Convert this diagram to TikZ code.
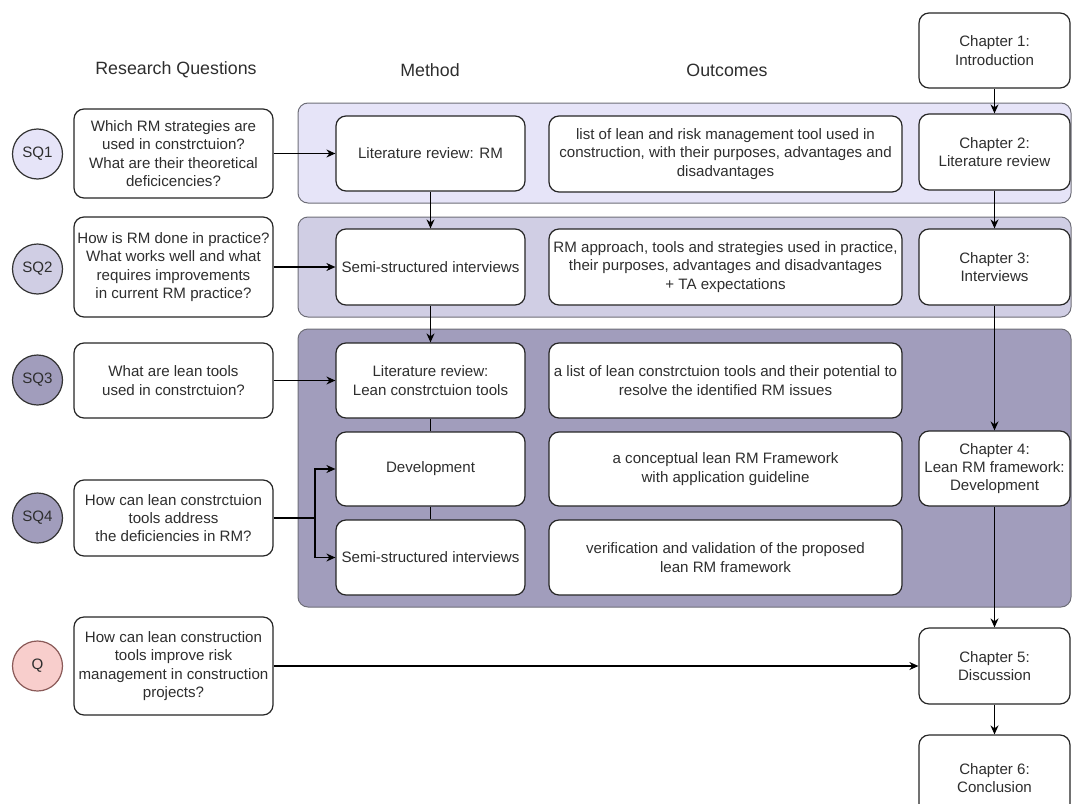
\documentclass[tikz,border=0pt]{standalone}
\usepackage{fontspec}
\setmainfont{Liberation Sans}
\usetikzlibrary{arrows.meta,positioning}

\definecolor{bandA}{HTML}{E6E4F8}
\definecolor{bandB}{HTML}{D0CEE4}
\definecolor{bandC}{HTML}{A19DBC}
\definecolor{bandline}{HTML}{6E6E78}
\definecolor{txt}{HTML}{2E2E2E}
\definecolor{qfill}{HTML}{F8CECC}
\definecolor{qline}{HTML}{8A5A58}

\tikzset{
  box/.style={draw=black!85, line width=1.2pt, fill=white, rounded corners=10pt,
    align=center, inner sep=0pt, text=txt,
    font=\fontsize{15.1}{18.3}\selectfont},
  qbox/.style={box, minimum width=199pt},
  mbox/.style={box, minimum width=189pt},
  obox/.style={box, minimum width=353pt},
  cbox/.style={box, minimum width=151pt},
  band/.style={draw=bandline, line width=1pt, rounded corners=10pt},
  badge/.style={circle, draw=black!80, line width=1.2pt, minimum size=50pt,
    inner sep=0pt, text=txt, font=\fontsize{15.1}{18}\selectfont},
  head/.style={text=txt, font=\fontsize{17.8}{20}\selectfont},
  link/.style={draw=black, line width=1.2pt},
  arr/.style={link, -{Stealth[length=9pt,width=8pt]}}
}

\begin{document}
\begin{tikzpicture}[x=1pt,y=-1pt]
\useasboundingbox (0,0) rectangle (1073,803);
\clip (0,0) rectangle (1073,803);

% coloured bands behind the three stages
\draw[band, fill=bandA] (298,103) rectangle (1071,203);
\draw[band, fill=bandB] (298,217) rectangle (1071,317);
\draw[band, fill=bandC] (298,329) rectangle (1071,607);

% column headings
\node[head] (hRQ) at (176,70) {Research Questions};
\node[head] (hM)  at (430,70) {Method};
\node[head] (hO)  at (727,70) {Outcomes};

% research question badges
\node[badge, fill=bandA] (c1) at (37.5,154) {SQ1};
\node[badge, fill=bandB] (c2) at (37.5,269) {SQ2};
\node[badge, fill=bandC] (c3) at (37.5,380) {SQ3};
\node[badge, fill=bandC] (c4) at (37.5,518) {SQ4};
\node[badge, fill=qfill, draw=qline] (c5) at (37.5,666) {Q};

% research questions
\node[qbox, minimum height=89pt] (q1) at (173.5,153.5)
  {Which RM strategies are\\used in constrctuion?\\What are their theoretical\\deficicencies?};
\node[qbox, minimum height=100pt] (q2) at (173.5,267)
  {How is RM done in practice?\\What works well and what\\requires improvements\\in current RM practice?};
\node[qbox, minimum height=75pt] (q3) at (173.5,380.5)
  {What are lean tools\\used in constrctuion?};
\node[qbox, minimum height=76pt] (q4) at (173.5,518)
  {How can lean constrctuion\\tools address\\the deficiencies in RM?};
\node[qbox, minimum height=98pt] (q5) at (173.5,666)
  {How can lean construction\\tools improve risk\\management in construction\\projects?};

% methods
\node[mbox, minimum height=75pt] (m1) at (430.5,153.5) {Literature review: RM};
\node[mbox, minimum height=76pt] (m2) at (430.5,267) {Semi-structured interviews};
\node[mbox, minimum height=75pt] (m3) at (430.5,380.5) {Literature review:\\Lean constrctuion tools};
\node[mbox, minimum height=74pt] (m4) at (430.5,469) {Development};
\node[mbox, minimum height=75pt] (m5) at (430.5,557.5) {Semi-structured interviews};

% outcomes
\node[obox, minimum height=76pt] (o1) at (725.5,154)
  {list of lean and risk management tool used in\\construction, with their purposes, advantages and\\disadvantages};
\node[obox, minimum height=76pt] (o2) at (725.5,267)
  {RM approach, tools and strategies used in practice,\\their purposes, advantages and disadvantages\\+ TA expectations};
\node[obox, minimum height=75pt] (o3) at (725.5,380.5)
  {a list of lean constrctuion tools and their potential to\\resolve the identified RM issues};
\node[obox, minimum height=74pt] (o4) at (725.5,469)
  {a conceptual lean RM Framework\\with application guideline};
\node[obox, minimum height=75pt] (o5) at (725.5,557.5)
  {verification and validation of the proposed\\lean RM framework};

% thesis chapters
\node[cbox, minimum height=75pt] (ch1) at (994.5,50.5) {Chapter 1:\\Introduction};
\node[cbox, minimum height=76pt] (ch2) at (994.5,152) {Chapter 2:\\Literature review};
\node[cbox, minimum height=76pt] (ch3) at (994.5,267) {Chapter 3:\\Interviews};
\node[cbox, minimum height=75pt] (ch4) at (994.5,468.5) {Chapter 4:\\Lean RM framework:\\Development};
\node[cbox, minimum height=76pt] (ch5) at (994.5,666) {Chapter 5:\\Discussion};
\node[cbox, minimum height=86pt] (ch6) at (994.5,778) {Chapter 6:\\Conclusion};

% questions to methods
\draw[arr] (q1.east) -- (m1.west);
\draw[arr] (q2.east) -- (m2.west);
\draw[arr] (q3.east) -- (m3.west);
\coordinate (split) at (315,518);
\draw[link] (q4.east) -- (split);
\draw[arr] (split) |- (m4.west);
\draw[arr] (split) |- (m5.west);
\draw[arr] (q5.east) -- (ch5.west);

% method sequence
\draw[arr] (m1.south) -- (m2.north);
\draw[arr] (m2.south) -- (m3.north);
\draw[link] (m3.south) -- (m4.north);
\draw[link] (m4.south) -- (m5.north);

% chapter sequence
\draw[arr] (ch1.south) -- (ch2.north);
\draw[arr] (ch2.south) -- (ch3.north);
\draw[arr] (ch3.south) -- (ch4.north);
\draw[arr] (ch4.south) -- (ch5.north);
\draw[arr] (ch5.south) -- (ch6.north);
\end{tikzpicture}
\end{document}
